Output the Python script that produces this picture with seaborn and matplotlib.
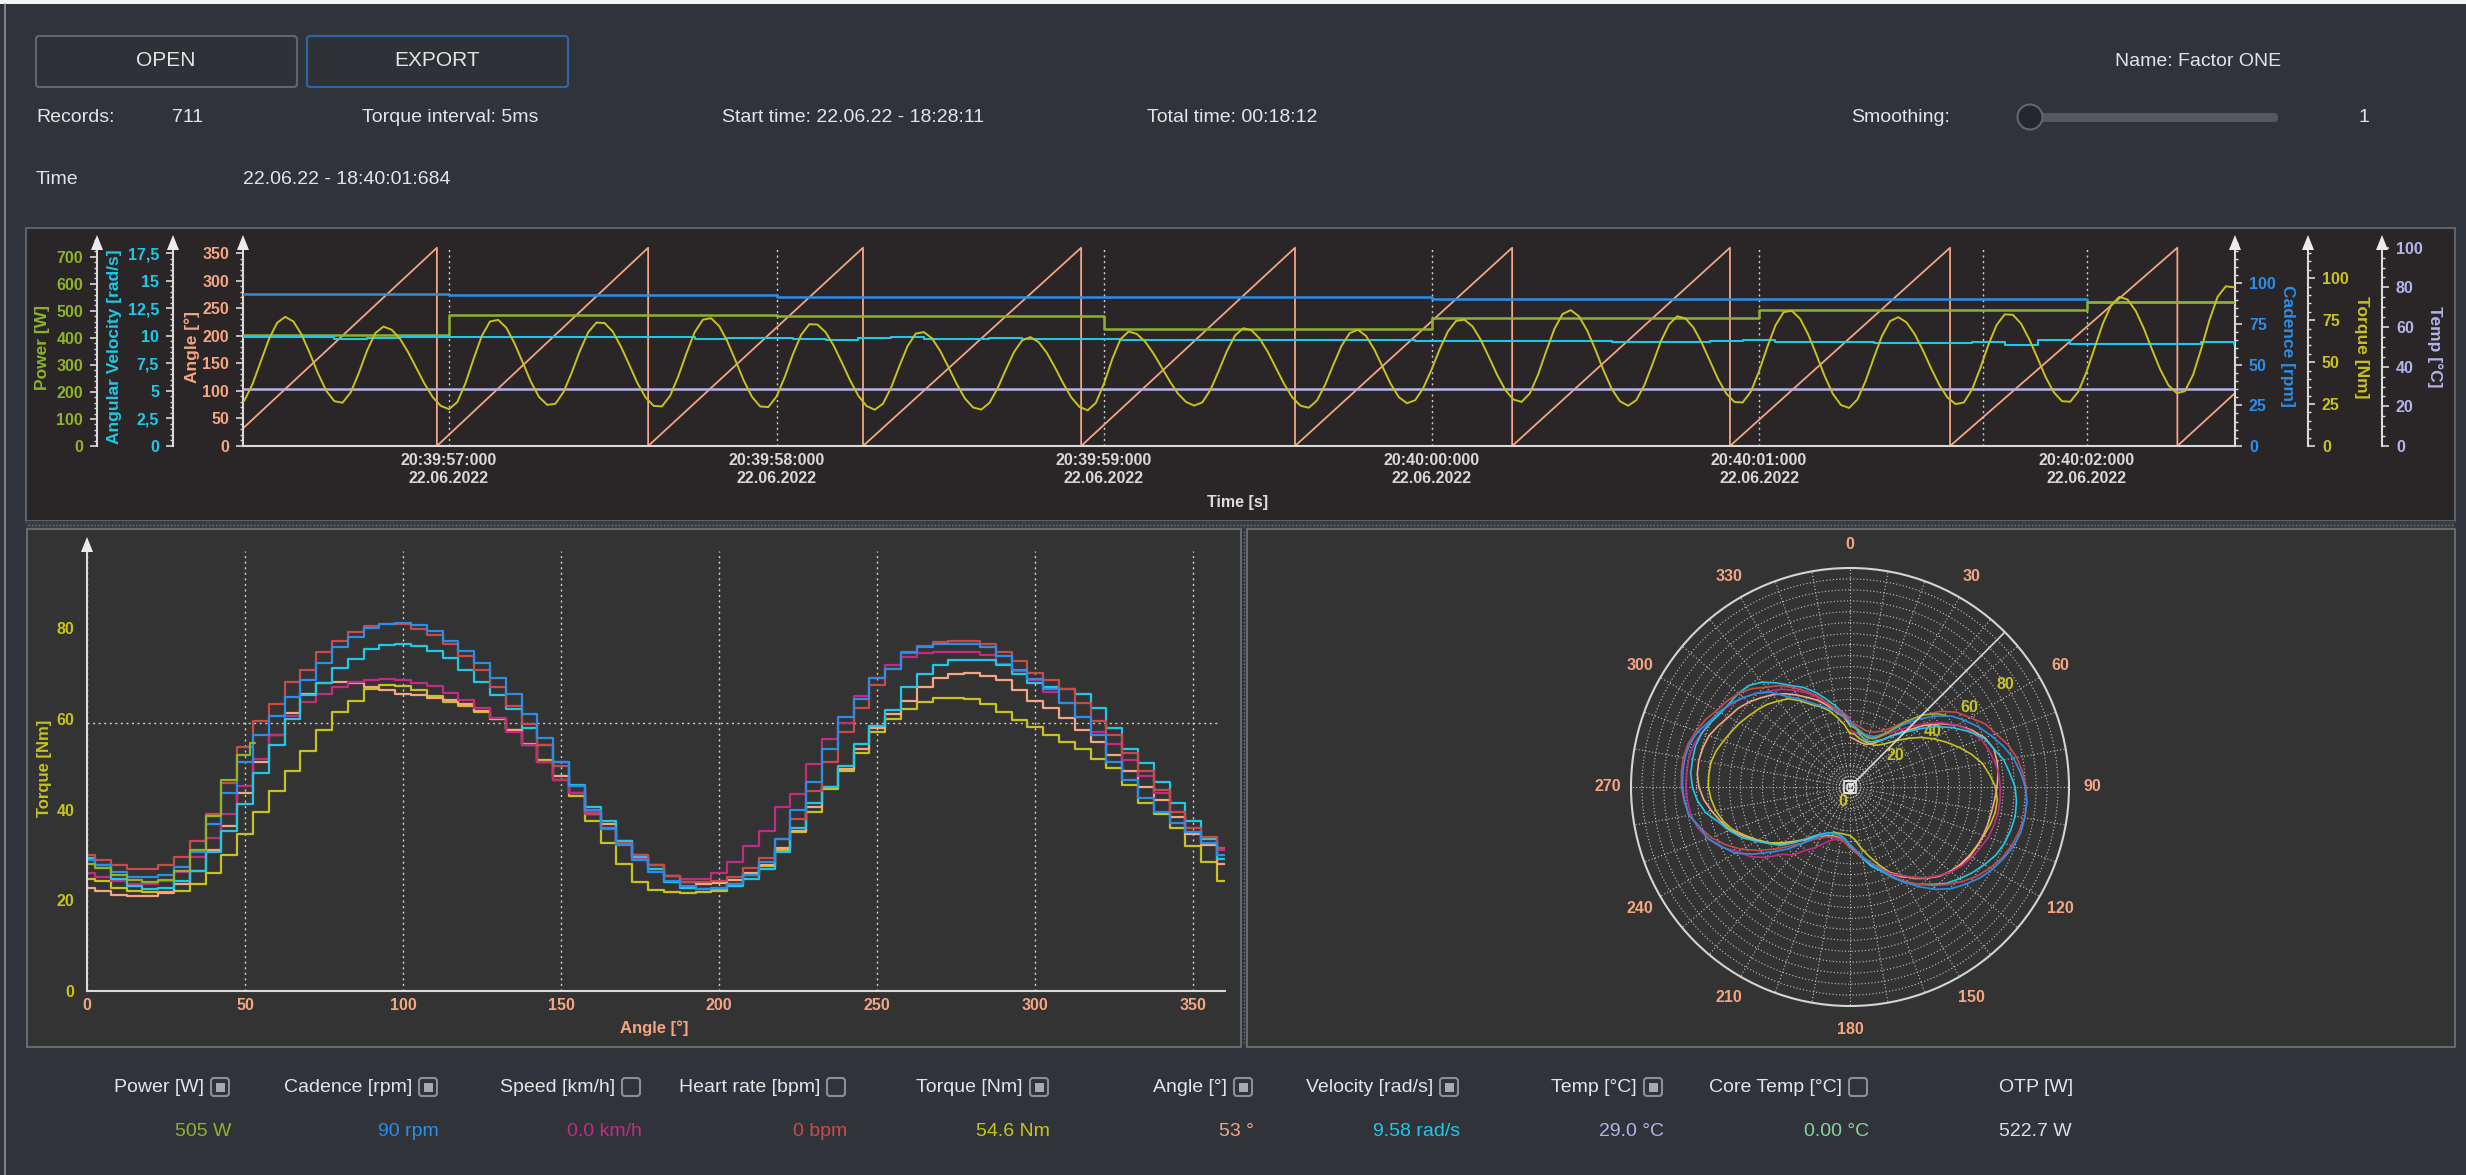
import numpy as np
import pandas as pd
import matplotlib
matplotlib.use("Agg")
import matplotlib.pyplot as plt
import seaborn as sns
from matplotlib.patches import Rectangle, FancyBboxPatch, Ellipse, Polygon
from matplotlib.ticker import MultipleLocator

# ---------------------------------------------------------------- data
# time axis in seconds after 20:39:56.000 (22.06.2022)
TIME_TICKS = [1, 2, 3, 4, 5, 6]
TIME_LABELS = ["20:39:57:000\n22.06.2022", "20:39:58:000\n22.06.2022",
               "20:39:59:000\n22.06.2022", "20:40:00:000\n22.06.2022",
               "20:40:01:000\n22.06.2022", "20:40:02:000\n22.06.2022"]
T_START, T_END = 0.371, 6.453
CURSOR_T = 5.684

# once-per-second channels
STEP_T = [0.371, 1.0, 2.0, 3.0, 4.0, 5.0, 6.0, 6.453]
POWER_W = [410, 484, 479, 432, 475, 504, 534, 534]
CADENCE_RPM = [93.3, 92.5, 91.6, 91.6, 90.2, 90.2, 88.5, 88.5]
TEMP_C = [29.0, 29.0, 29.0, 29.0, 29.0, 29.0, 29.0, 29.0]

# crank angle (sawtooth, one ramp per revolution)
ANGLE_T = [0.371, 0.963, 0.963, 1.608, 1.608, 2.264, 2.264, 2.930, 2.930, 3.583,
           3.583, 4.246, 4.246, 4.911, 4.911, 5.583, 5.583, 6.277, 6.277, 6.453]
ANGLE_DEG = [32, 360, 0, 360, 0, 360, 0, 360, 0, 360,
             0, 360, 0, 360, 0, 360, 0, 360, 0, 96]

# angular velocity, 0.1 s samples
VEL_T0, VEL_DT = 0.35, 0.1
VELOCITY = [9.93, 9.90, 9.90, 9.75, 9.84, 9.87, 9.90, 9.93, 9.87, 9.90,
            9.93, 9.90, 9.90, 9.87, 9.72, 9.78, 9.78, 9.76, 9.60, 9.84,
            9.87, 9.72, 9.69, 9.78, 9.72, 9.75, 9.72, 9.60, 9.66, 9.63,
            9.63, 9.60, 9.63, 9.63, 9.60, 9.63, 9.57, 9.55, 9.52, 9.57,
            9.50, 9.50, 9.48, 9.48, 9.48, 9.50, 9.65, 9.48, 9.42, 9.45,
            9.40, 9.36, 9.33, 9.45, 9.20, 9.60, 9.30, 9.28, 9.30, 9.30,
            9.45, 9.26]

# torque, 25 ms samples
TORQUE_T0, TORQUE_DT = 0.35, 0.025
TORQUE_NM = [
    23.5, 27.0, 36.9, 50.3, 63.6, 73.4, 77.0, 74.2, 66.4, 55.3, 43.3, 33.0, 26.7,
    25.8, 32.0, 43.7, 57.0, 67.3, 71.2, 69.3, 64.0, 56.0, 46.6, 37.2, 29.2, 23.9, 22.0,
    26.1, 37.3, 51.9, 65.6, 74.2, 75.2, 70.5, 61.2, 49.9, 38.3, 29.2, 24.5,
    25.2, 32.3, 43.9, 56.9, 67.8, 73.6, 73.3, 68.2, 59.2, 48.6, 37.6, 29.0, 23.9,
    23.6, 29.9, 41.5, 55.3, 67.8, 75.3, 76.2, 71.5, 62.3, 50.8, 39.0, 29.3, 23.6,
    23.2, 29.5, 41.1, 54.7, 66.2, 72.6, 72.4, 67.8, 59.7, 49.5, 39.0, 29.9, 23.8, 21.6,
    25.2, 34.9, 47.6, 59.5, 67.0, 67.9, 64.1, 56.6, 47.0, 37.0, 28.4, 23.0,
    21.7, 25.7, 34.5, 45.5, 56.0, 63.0, 64.9, 62.0, 55.6, 46.9, 37.4, 29.0, 23.3, 21.3,
    25.7, 37.3, 51.8, 63.6, 68.3, 66.8, 62.3, 55.4, 47.2, 38.8, 31.4, 26.3, 24.1,
    26.0, 33.5, 44.7, 56.5, 65.9, 70.2, 69.0, 64.1, 56.1, 46.5, 36.9, 28.9, 24.0,
    22.8, 27.1, 36.5, 48.4, 59.7, 67.3, 69.3, 65.6, 57.6, 47.4, 37.1, 29.1, 25.5,
    27.3, 34.7, 45.6, 57.8, 68.4, 74.6, 75.3, 71.3, 63.3, 53.1, 42.5, 33.4, 27.7,
    26.3, 31.4, 42.5, 56.5, 69.8, 78.7, 81.0, 77.3, 68.9, 57.5, 45.1, 34.1, 26.7, 24.0,
    27.3, 36.4, 49.1, 62.4, 72.5, 77.3, 76.1, 70.5, 61.4, 50.6, 39.8, 31.2, 26.2,
    26.0, 32.5, 44.6, 59.0, 71.9, 79.8, 80.6, 75.9, 66.5, 54.4, 41.8, 31.1, 24.4,
    22.7, 27.7, 38.7, 52.5, 65.6, 74.5, 76.8, 73.7, 66.7, 57.1, 46.4, 36.5, 28.9, 25.0,
    25.9, 33.6, 46.2, 60.3, 72.1, 78.5, 78.2, 72.9, 63.5, 52.5, 41.0, 32.0, 26.7,
    26.4, 32.5, 44.4, 58.9, 73.2, 84.0, 88.9, 87.3, 80.5, 69.9, 57.4, 45.5, 36.2, 31.5,
    32.7, 42.4, 58.0, 75.1, 89.0, 95.2, 94.6]

# torque per crank angle for the last revolutions (5 degree bins, 0..360)
PROFILE_ANGLE = list(range(0, 361, 5))
REV_RED = [29.9, 28.8, 27.7, 26.8, 26.8, 27.7, 29.6, 33.0, 39.0, 45.9, 53.8, 59.5, 63.3,
           68.2, 70.9, 74.7, 77.3, 79.1, 80.4, 81.0, 81.0, 79.8, 78.5, 76.6, 73.9, 70.9,
           67.1, 62.9, 58.8, 54.2, 49.7, 45.1, 39.0, 35.6, 32.6, 29.9, 27.7, 25.4, 24.0,
           23.9, 24.2, 25.0, 27.0, 29.2, 33.5, 38.0, 44.0, 50.5, 57.0, 62.5, 67.5, 71.0,
           74.5, 76.0, 77.0, 77.3, 77.3, 76.5, 74.8, 72.8, 70.1, 68.5, 66.5, 63.5, 59.5,
           56.5, 52.5, 48.5, 44.4, 39.5, 36.0, 34.0, 31.5]
REV_BLUE = [28.8, 27.7, 26.2, 25.0, 25.0, 25.5, 27.3, 30.7, 36.8, 43.6, 50.4, 56.5, 60.7,
            64.8, 68.6, 72.4, 75.8, 78.1, 80.0, 81.0, 81.1, 80.7, 79.4, 77.3, 75.1, 72.4,
            69.0, 65.6, 61.0, 55.7, 50.4, 45.1, 39.8, 36.0, 32.2, 28.8, 26.2, 24.3, 23.1,
            22.5, 22.6, 23.5, 25.5, 28.4, 33.5, 40.0, 46.0, 53.4, 60.5, 64.5, 69.0, 71.0,
            74.7, 75.8, 76.5, 76.6, 76.6, 75.8, 73.9, 70.9, 68.8, 66.5, 63.5, 60.5, 56.5,
            50.5, 46.5, 42.5, 39.5, 37.0, 35.0, 32.5, 30.0]
REV_CYAN = [29.2, 27.7, 24.6, 23.1, 22.4, 22.7, 24.3, 26.5, 30.7, 35.3, 41.3, 48.1, 54.2,
            59.9, 65.2, 67.9, 71.3, 73.2, 75.4, 76.3, 76.6, 76.0, 75.1, 73.5, 70.9, 68.2,
            65.2, 62.2, 58.0, 54.2, 50.4, 45.5, 40.6, 37.5, 33.0, 29.6, 26.9, 23.9, 22.7,
            22.4, 22.4, 23.1, 24.6, 26.9, 30.7, 36.0, 41.5, 45.0, 49.5, 54.5, 58.5, 62.0,
            67.0, 70.0, 72.0, 73.0, 73.0, 73.0, 72.0, 70.0, 68.0, 67.0, 66.5, 65.5, 62.5,
            58.0, 53.4, 50.2, 46.0, 41.5, 37.5, 33.5, 29.0]
REV_MAGENTA = [26.0, 25.0, 24.3, 23.5, 23.5, 24.3, 26.2, 29.6, 33.7, 39.0, 45.1, 51.2, 56.5,
               60.7, 63.7, 65.6, 67.1, 68.2, 68.6, 68.8, 68.6, 68.0, 67.2, 65.7, 64.2, 62.5,
               60.3, 57.2, 54.2, 50.4, 46.6, 43.6, 39.4, 36.0, 32.6, 29.2, 26.9, 25.4, 24.6,
               24.6, 26.0, 28.5, 32.0, 35.3, 40.5, 43.5, 50.0, 55.5, 59.0, 65.0, 69.0, 72.0,
               73.7, 74.5, 74.8, 74.8, 74.8, 74.0, 72.2, 70.6, 68.6, 66.0, 63.5, 60.5, 57.2,
               54.5, 51.0, 47.5, 43.6, 39.5, 36.0, 33.5, 31.0]
REV_SALMON = [22.7, 22.0, 21.2, 20.8, 20.8, 21.6, 23.5, 26.5, 31.1, 36.4, 43.6, 50.4, 56.5,
              61.4, 65.6, 67.9, 68.2, 67.9, 67.1, 66.3, 65.6, 65.2, 64.7, 64.1, 63.2, 61.8,
              59.9, 57.6, 54.2, 50.4, 47.4, 43.6, 39.0, 36.8, 33.0, 29.9, 27.7, 25.4, 23.9,
              23.5, 23.7, 24.5, 26.0, 27.7, 31.5, 35.3, 40.5, 45.0, 48.9, 53.4, 58.0, 61.0,
              64.0, 67.0, 69.0, 70.0, 70.1, 69.5, 68.5, 66.3, 64.0, 62.5, 60.3, 57.6, 55.0,
              52.0, 48.5, 45.0, 42.0, 38.3, 34.5, 32.2, 28.0]
REV_YELLOW = [24.6, 24.2, 22.7, 22.0, 21.8, 21.8, 22.0, 23.5, 26.0, 30.0, 34.5, 39.5, 44.0,
              48.5, 53.0, 57.5, 61.5, 64.0, 66.5, 67.5, 67.3, 66.3, 65.0, 63.8, 62.8, 61.5,
              60.0, 57.5, 54.5, 51.0, 46.5, 43.0, 37.5, 32.5, 28.0, 24.0, 22.2, 21.8, 21.6,
              21.8, 22.0, 23.5, 25.5, 27.5, 31.0, 35.0, 39.5, 44.5, 48.5, 52.5, 57.0, 60.0,
              62.2, 63.7, 64.7, 64.7, 64.5, 63.3, 61.5, 59.8, 58.3, 56.5, 55.0, 53.4, 51.2,
              49.2, 45.5, 41.5, 39.0, 36.0, 32.0, 28.5, 24.3]
# revolution in progress
CURRENT_ANGLE = [0, 5, 10, 15, 20, 25, 30, 35, 40, 45, 50, 53]
CURRENT_NM = [28.0, 27.0, 25.5, 24.5, 24.0, 24.5, 26.5, 31.0, 38.5, 46.5, 52.0, 54.6]
TORQUE_REF = 59.0

# ---------------------------------------------------------------- style
sns.set_theme(style="dark")
FONT = ['Liberation Sans', 'DejaVu Sans']
plt.rcParams['font.family'] = FONT

BG = '#30343a'
TXT = '#e4e4e4'
SPINE = '#dadada'
C_POWER = '#8db32a'
C_CAD = '#2a8ee8'
C_SPEED = '#c42a82'
C_HR = '#c84b4b'
C_TORQUE = '#c8c21e'
C_ANGLE = '#f4a582'
C_VEL = '#1ec8e6'
C_TEMP = '#b4b4ec'
C_CORE = '#86d4a0'

W, H = 2466, 1175
fig = plt.figure(figsize=(W / 100, H / 100), dpi=100)
fig.patch.set_facecolor(BG)


def frac_rect(l, t, r, b):
    return [l / W, 1 - b / H, (r - l) / W, (b - t) / H]


bg = fig.add_axes([0, 0, 1, 1])
bg.set_xlim(0, W)
bg.set_ylim(H, 0)
bg.axis('off')
bg.set_zorder(0)


def box(x0, y0, x1, y1, fc, ec, lw=1.5, r=0, z=1):
    if r:
        p = FancyBboxPatch((x0, y0), x1 - x0, y1 - y0,
                           boxstyle=f"round,pad=0,rounding_size={r}",
                           fc=fc, ec=ec, lw=lw, zorder=z)
    else:
        p = Rectangle((x0, y0), x1 - x0, y1 - y0, fc=fc, ec=ec, lw=lw, zorder=z)
    bg.add_patch(p)


def txt(x, y, s, size=14, color=TXT, ha='left', rot=0, bold=False, z=5):
    bg.text(x, y, s, fontsize=size, color=color, ha=ha, va='center',
            rotation=rot, fontweight='bold' if bold else 'normal',
            rotation_mode='anchor' if rot else 'default', zorder=z)


# window frame
bg.add_patch(Rectangle((0, 0), W, 4, fc='#f4f4f4', ec='none', zorder=1))
bg.plot([5, 5], [4, H], color='#8e9195', lw=1.2, zorder=1)

# ---------------------------------------------------------------- header
box(36, 36, 297, 87, '#2e3236', '#62666a', r=3)
box(307, 36, 568, 87, '#2e3236', '#2c66aa', r=3)
txt(166, 61, 'OPEN', 15, ha='center')
txt(437, 61, 'EXPORT', 15, ha='center')
txt(2115, 62, 'Name: Factor ONE', 14)

txt(36, 118, 'Records:', 14)
txt(172, 118, '711', 14)
txt(362, 118, 'Torque interval: 5ms', 14)
txt(722, 118, 'Start time: 22.06.22 - 18:28:11', 14)
txt(1147, 118, 'Total time: 00:18:12', 14)
txt(1851, 118, 'Smoothing:', 14)
box(2026, 113, 2278, 122, '#55595e', 'none', lw=0, r=4)
bg.add_patch(Ellipse((2030, 117), 25, 25, fc='#24272b', ec='#63676b', lw=1.5, zorder=3))
txt(2358, 118, '1', 14)
txt(36, 180, 'Time', 14)
txt(243, 180, '22.06.22 - 18:40:01:684', 14)

# ---------------------------------------------------------------- panels
box(26, 228, 2455, 521, '#2a2627', '#5e6266')
box(26, 521, 2455, 529, '#393d42', 'none', lw=0)
bg.plot([28, 2453], [525, 525], color='#72767a', lw=1, ls=(0, (1, 1.5)), zorder=2)
box(27, 529, 1241, 1047, '#333333', '#666a6e')
box(1247, 529, 2455, 1047, '#333333', '#666a6e')
bg.plot([1244, 1244], [531, 1045], color='#72767a', lw=1, ls=(0, (1, 1.5)), zorder=2)

# ---------------------------------------------------------------- time chart
L, R, T, B = 243, 2235, 240, 446
ax = fig.add_axes(frac_rect(L, T, R, B))
ax.set_facecolor('none')
tw_temp = ax.twinx()
tw_cad = ax.twinx()
tw_pow = ax.twinx()
tw_vel = ax.twinx()
tw_trq = ax.twinx()

for t in TIME_TICKS + [CURSOR_T]:
    ax.axvline(t, ymin=0, ymax=360 / 374.1, color='#cfcfcf', lw=1.0,
               ls=(0, (1.5, 2.5)), zorder=1)

sns.lineplot(x=ANGLE_T, y=ANGLE_DEG, ax=ax, color=C_ANGLE, lw=1.3,
             estimator=None, sort=False)
sns.lineplot(x=STEP_T, y=TEMP_C, ax=tw_temp, color=C_TEMP, lw=1.8,
             estimator=None, sort=False, drawstyle='steps-post')
sns.lineplot(x=STEP_T, y=CADENCE_RPM, ax=tw_cad, color=C_CAD, lw=1.8,
             estimator=None, sort=False, drawstyle='steps-post')
sns.lineplot(x=STEP_T, y=POWER_W, ax=tw_pow, color=C_POWER, lw=1.8,
             estimator=None, sort=False, drawstyle='steps-post')
vel_t = VEL_T0 + VEL_DT * np.arange(len(VELOCITY))
sns.lineplot(x=vel_t, y=VELOCITY, ax=tw_vel, color=C_VEL, lw=1.5,
             estimator=None, sort=False, drawstyle='steps-post')
trq_t = TORQUE_T0 + TORQUE_DT * np.arange(len(TORQUE_NM))
sns.lineplot(x=trq_t, y=TORQUE_NM, ax=tw_trq, color=C_TORQUE, lw=1.4,
             estimator=None, sort=False)


def vaxis(a, side, xpx, color, ticks, labels, minor, top):
    a.set_ylim(0, top)
    a.set_facecolor('none')
    a.grid(False)
    a.set_ylabel('')
    for s in a.spines.values():
        s.set_visible(False)
    sp = a.spines[side]
    sp.set_visible(True)
    sp.set_position(('axes', (xpx - L) / (R - L)))
    sp.set_color(SPINE)
    sp.set_linewidth(1.5)
    if side == 'left':
        a.yaxis.tick_left()
    else:
        a.yaxis.tick_right()
    a.set_yticks(ticks)
    a.set_yticklabels(labels, fontweight='bold', fontsize=11.5, color=color)
    a.yaxis.set_minor_locator(MultipleLocator(minor))
    a.tick_params(axis='y', which='major', direction='out', length=5,
                  width=1.2, color=SPINE, pad=5)
    a.tick_params(axis='y', which='minor', direction='out', length=2.5,
                  width=1.0, color=SPINE)


vaxis(ax, 'left', 243, C_ANGLE, list(range(0, 351, 50)),
      [str(v) for v in range(0, 351, 50)], 10, 374.1)
vaxis(tw_pow, 'left', 97, C_POWER, list(range(0, 701, 100)),
      [str(v) for v in range(0, 701, 100)], 20, 761.8)
vel_ticks = [0, 2.5, 5, 7.5, 10, 12.5, 15, 17.5]
vaxis(tw_vel, 'left', 173, C_VEL, vel_ticks,
      ['0', '2,5', '5', '7,5', '10', '12,5', '15', '17,5'], 0.5, 18.71)
vaxis(tw_cad, 'right', 2235, C_CAD, [0, 25, 50, 75, 100],
      ['0', '25', '50', '75', '100'], 5, 126.6)
vaxis(tw_trq, 'right', 2308, C_TORQUE, [0, 25, 50, 75, 100],
      ['0', '25', '50', '75', '100'], 5, 122.8)
vaxis(tw_temp, 'right', 2382, C_TEMP, [0, 20, 40, 60, 80, 100],
      ['0', '20', '40', '60', '80', '100'], 5, 103.9)

ax.spines['bottom'].set_visible(True)
ax.spines['bottom'].set_color(SPINE)
ax.spines['bottom'].set_linewidth(1.5)
ax.set_xlim(T_START, T_END)
ax.set_xticks(TIME_TICKS)
ax.set_xticklabels(TIME_LABELS, fontweight='bold', fontsize=11.5,
                   color='#d8d8d8', linespacing=1.25)
ax.xaxis.set_minor_locator(MultipleLocator(0.2))
ax.tick_params(axis='x', which='both', direction='in', length=4, width=1.2,
               color=SPINE, pad=5)
ax.set_xlabel('')
for a in (ax, tw_temp, tw_cad, tw_pow, tw_vel, tw_trq):
    a.set_zorder(2)

txt(43, 347, 'Power [W]', 12.5, C_POWER, ha='center', rot=90, bold=True)
txt(115, 347, 'Angular Velocity [rad/s]', 12.5, C_VEL, ha='center', rot=90, bold=True)
txt(192, 347, 'Angle [°]', 12.5, C_ANGLE, ha='center', rot=90, bold=True)
txt(2287, 346, 'Cadence [rpm]', 12.5, C_CAD, ha='center', rot=270, bold=True)
txt(2362, 347, 'Torque [Nm]', 12.5, C_TORQUE, ha='center', rot=270, bold=True)
txt(2435, 347, 'Temp [°C]', 12.5, C_TEMP, ha='center', rot=270, bold=True)
txt(1238, 502, 'Time [s]', 11.5, '#dcdcdc', ha='center', bold=True)

# ---------------------------------------------------------------- torque / angle chart
rev_names = ['rev 1', 'rev 2', 'rev 3', 'rev 4', 'rev 5', 'rev 6', 'current']
rev_values = [REV_YELLOW, REV_SALMON, REV_MAGENTA, REV_CYAN, REV_RED, REV_BLUE, CURRENT_NM]
rev_colors = [C_TORQUE, C_ANGLE, C_SPEED, C_VEL, C_HR, C_CAD, C_POWER]
frames = []
for name, vals in zip(rev_names, rev_values):
    ang = CURRENT_ANGLE if name == 'current' else PROFILE_ANGLE
    frames.append(pd.DataFrame({'angle': ang, 'torque': vals, 'rev': name}))
prof = pd.concat(frames, ignore_index=True)
prof['theta'] = np.deg2rad(prof['angle'])
palette = dict(zip(rev_names, rev_colors))

ax2 = fig.add_axes(frac_rect(87, 551.3, 1225, 990.7))
ax2.set_facecolor('none')
ax2.set_zorder(1)
ax2.grid(False)
sns.lineplot(data=prof, x='angle', y='torque', hue='rev', palette=palette,
             hue_order=rev_names, estimator=None, sort=False, legend=False,
             drawstyle='steps-mid', lw=1.6, ax=ax2)
ax2.axhline(TORQUE_REF, xmax=358 / 360, color='#cfcfcf', lw=1.0, ls=(0, (1.5, 2.5)), zorder=0)
ax2.set_xlim(0, 360)
ax2.set_ylim(0, 97)
ax2.set_xticks(range(0, 351, 50))
ax2.set_xticklabels([str(v) for v in range(0, 351, 50)], fontweight='bold',
                    fontsize=11.5, color=C_ANGLE)
ax2.set_yticks(range(0, 81, 20))
ax2.set_yticklabels([str(v) for v in range(0, 81, 20)], fontweight='bold',
                    fontsize=11.5, color=C_TORQUE)
ax2.xaxis.set_minor_locator(MultipleLocator(10))
ax2.yaxis.set_minor_locator(MultipleLocator(5))
ax2.tick_params(axis='x', which='both', direction='in', length=4, width=1.2,
                color=SPINE, pad=5)
ax2.tick_params(axis='y', which='major', direction='out', length=5, width=1.2,
                color=SPINE, pad=4)
ax2.tick_params(axis='y', which='minor', direction='out', length=3, width=1.0,
                color=SPINE)
ax2.xaxis.grid(True, which='major', color='#d0d0d0', lw=1.0, ls=(0, (1.5, 2.5)))
ax2.yaxis.grid(False)
for s in ('top', 'right'):
    ax2.spines[s].set_visible(False)
for s in ('left', 'bottom'):
    ax2.spines[s].set_visible(True)
    ax2.spines[s].set_color(SPINE)
    ax2.spines[s].set_linewidth(1.5)
ax2.set_xlabel('')
ax2.set_ylabel('')
txt(45, 768, 'Torque [Nm]', 12, C_TORQUE, ha='center', rot=90, bold=True)
txt(654, 1028, 'Angle [°]', 12, C_ANGLE, ha='center', bold=True)

# ---------------------------------------------------------------- polar chart
cx, cy, rad = 1850, 787, 219
axp = fig.add_axes(frac_rect(cx - rad, cy - rad, cx + rad, cy + rad), projection='polar')
axp.set_facecolor('none')
axp.set_zorder(1)
axp.set_theta_zero_location('N')
axp.set_theta_direction(-1)
sns.lineplot(data=prof, x='theta', y='torque', hue='rev', palette=palette,
             hue_order=rev_names, estimator=None, sort=False, legend=False,
             lw=1.2, ax=axp)
axp.plot([np.pi / 4, np.pi / 4], [0, 100], color='#d8d8d8', lw=1.2)
axp.plot([0], [0], marker='s', ms=9, mfc='none', mec='#e0e0e0', mew=1.2)
axp.plot([0], [0], marker='s', ms=4, mfc='none', mec='#e0e0e0', mew=1.0)
axp.set_ylim(0, 100)
theta_deg = list(range(0, 360, 10))
axp.set_xticks(np.deg2rad(theta_deg))
axp.set_xticklabels([str(d) if d % 30 == 0 else '' for d in theta_deg],
                    fontweight='bold', fontsize=11.5, color=C_ANGLE)
r_ticks = list(range(5, 100, 5))
axp.set_yticks(r_ticks)
axp.set_yticklabels([str(v) if v % 20 == 0 else '' for v in r_ticks],
                    fontweight='bold', fontsize=11.5, color=C_TORQUE)
axp.set_rlabel_position(57)
axp.tick_params(axis='x', pad=4)
axp.grid(True, color='#c4c4c4', lw=0.8, ls=(0, (1, 2)))
axp.spines['polar'].set_color('#d4d4d4')
axp.spines['polar'].set_linewidth(1.5)
axp.set_xlabel('')
axp.set_ylabel('')
txt(1843, 801, '0', 11.5, C_TORQUE, ha='center', bold=True)

# ---------------------------------------------------------------- axis arrows
fg = fig.add_axes([0, 0, 1, 1])
fg.set_xlim(0, W)
fg.set_ylim(H, 0)
fg.axis('off')
fg.set_zorder(5)
for x in (97, 173, 243, 2235, 2308, 2382):
    fg.add_patch(Polygon([(x, 235), (x - 6, 250), (x + 6, 250)], closed=True,
                         fc='#ececec', ec='none'))
fg.add_patch(Polygon([(87, 537), (81, 552), (93, 552)], closed=True,
                     fc='#ececec', ec='none'))

# ---------------------------------------------------------------- readout row
LEGEND_LABELS = ['Power [W]', 'Cadence [rpm]', 'Speed [km/h]', 'Heart rate [bpm]',
                 'Torque [Nm]', 'Angle [°]', 'Velocity [rad/s]', 'Temp [°C]',
                 'Core Temp [°C]', 'OTP [W]']
LEGEND_VALUES = ['505 W', '90 rpm', '0.0 km/h', '0 bpm', '54.6 Nm', '53 °',
                 '9.58 rad/s', '29.0 °C', '0.00 °C', '522.7 W']
LEGEND_CHECKED = [True, True, False, False, True, True, True, True, False, None]
LEGEND_COLORS = [C_POWER, C_CAD, C_SPEED, C_HR, C_TORQUE, C_ANGLE, C_VEL,
                 C_TEMP, C_CORE, '#dedede']
box_left = [211, 419, 622, 827, 1030, 1234, 1440, 1644, 1849, None]
for lab, val, chk, col, bx in zip(LEGEND_LABELS, LEGEND_VALUES, LEGEND_CHECKED,
                                  LEGEND_COLORS, box_left):
    if bx is None:
        txt(1999, 1087, lab, 14)
        txt(1999, 1131, val, 14, col)
        continue
    txt(bx - 7, 1087, lab, 14, ha='right')
    box(bx, 1078, bx + 18, 1096, 'none', '#8c8f93', lw=1.5, r=3)
    if chk:
        box(bx + 4.5, 1082.5, bx + 13.5, 1091.5, '#a9a9a9', 'none', lw=0)
    txt(bx + 20, 1131, val, 14, col, ha='right')

fig.savefig('out.png', dpi=100, facecolor=fig.get_facecolor())
